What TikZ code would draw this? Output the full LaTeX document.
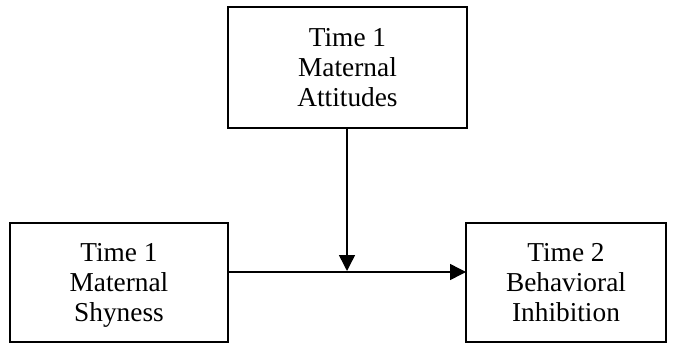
\documentclass[tikz,border=0pt]{standalone}
\usepackage{fontspec}
\setmainfont{Liberation Serif}
\usetikzlibrary{arrows.meta}
\begin{document}
\begin{tikzpicture}[x=0.75pt,y=-0.75pt,
  box/.style={draw,line width=1.1pt,inner sep=0pt,outer sep=0pt,align=center,
    text depth=0pt,font=\fontsize{20.5}{22.5}\selectfont},
  arr/.style={line width=1.1pt,-{Triangle[length=12pt,width=12pt]}}]
\useasboundingbox (0,0) rectangle (674,343);
\node[box,minimum width=179.25pt,minimum height=90.75pt] (T) at (347.5,67.5) {Time 1\\Maternal\\Attitudes};
\node[box,minimum width=163.5pt,minimum height=89.25pt] (L) at (119,282.5) {Time 1\\Maternal\\Shyness};
\node[box,minimum width=150pt,minimum height=89.25pt] (R) at (566,282.5) {Time 2\\Behavioral\\Inhibition};
\coordinate (h) at (347,272);
\coordinate (m) at (347,271);
\draw[arr] (L.east |- h) -- (R.west |- h);
\draw[arr] (T.south -| m) -- (m);
\end{tikzpicture}
\end{document}
